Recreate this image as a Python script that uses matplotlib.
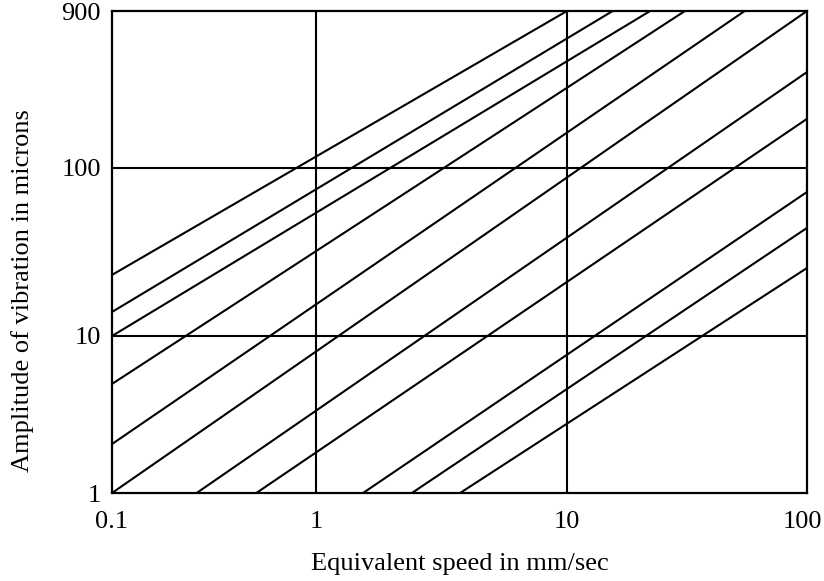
import numpy as np
import matplotlib
matplotlib.use("Agg")
from matplotlib import pyplot as plt
from matplotlib import transforms

plt.rcParams['font.family'] = ['Liberation Serif', 'DejaVu Serif']

# lines: start and end points (speed mm/s, amplitude microns)
x_start = [0.1, 0.1, 0.1, 0.1, 0.1, 0.1, 0.26, 0.51, 1.54, 2.41, 3.75]
y_start = [23.1, 13.9, 10, 4.95, 2.05, 1, 1, 1, 1, 1, 1]
x_end = [10, 15.5, 22.2, 31, 55, 100, 100, 100, 100, 100, 100]
y_end = [900, 900, 900, 900, 900, 900, 383, 199, 72, 44, 25.4]

x_ticks = [0.1, 1, 10, 100]
x_ticklabels = ["0.1", "1", "10", "100"]
y_ticks = [1, 10, 100, 900]
y_ticklabels = ["1", "10", "100", "900"]

# the printed chart has uneven decades, so use a piecewise log scale
xk_log = [-1, 0, 1, 2]
xk_pos = [0, 204, 455, 695]
yk_log = [0, 1, 2, np.log10(900)]
yk_pos = [0, 157, 325, 482]


def fwd_x(x):
    return np.interp(np.log10(np.maximum(x, 1e-9)), xk_log, xk_pos)


def inv_x(p):
    return 10 ** np.interp(p, xk_pos, xk_log)


def fwd_y(y):
    return np.interp(np.log10(np.maximum(y, 1e-9)), yk_log, yk_pos)


def inv_y(p):
    return 10 ** np.interp(p, yk_pos, yk_log)


fig = plt.figure(figsize=(8.24, 5.81), dpi=100)
ax = fig.add_axes([112/824, 1-493/581, 695/824, 482/581])
ax.set_xscale('function', functions=(fwd_x, inv_x))
ax.set_yscale('function', functions=(fwd_y, inv_y))
ax.set_xlim(0.1, 100)
ax.set_ylim(1, 900)

for xs, ys, xe, ye in zip(x_start, y_start, x_end, y_end):
    ax.plot([xs, xe], [ys, ye], color='black', lw=1.5, solid_capstyle='butt')

for v in [1, 10]:
    ax.axvline(v, color='black', lw=1.5)
for v in [10, 100]:
    ax.axhline(v, color='black', lw=1.5)

ax.set_xticks(x_ticks)
ax.set_xticklabels(x_ticklabels)
ax.set_yticks(y_ticks)
ax.set_yticklabels(y_ticklabels)
ax.xaxis.set_minor_locator(matplotlib.ticker.NullLocator())
ax.yaxis.set_minor_locator(matplotlib.ticker.NullLocator())
ax.tick_params(length=0, labelsize=19)
ax.tick_params(axis='x', pad=13)
ax.tick_params(axis='y', pad=8)
for s in ax.spines.values():
    s.set_linewidth(1.6)

# nudge the last x label so it stays inside the figure
lab = ax.get_xticklabels()[-1]
lab.set_transform(lab.get_transform() + transforms.ScaledTranslation(-0.05, 0, fig.dpi_scale_trans))

ax.set_xlabel("Equivalent speed in mm/sec", fontsize=19)
ax.xaxis.set_label_coords(0.5, -0.124)
ax.set_ylabel("Amplitude of vibration in microns", fontsize=19)
ax.yaxis.set_label_coords(-0.112, 0.419)

fig.savefig("out.png", dpi=100)
